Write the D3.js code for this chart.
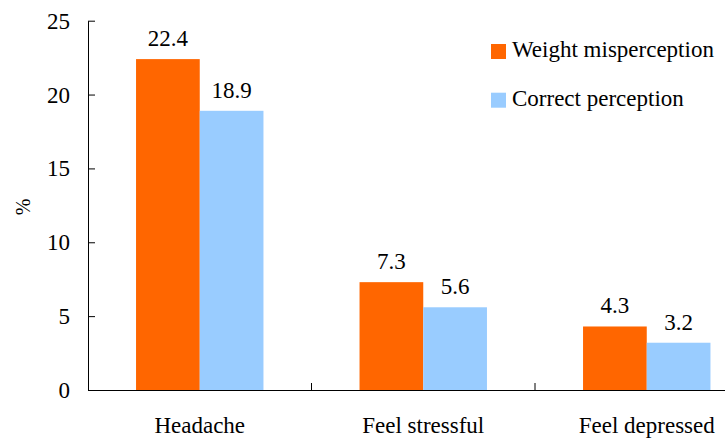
<!DOCTYPE html>
<html>
<head>
    <meta charset="utf-8">
    <script src="https://cdn.jsdelivr.net/npm/d3@7"></script>
</head>
<body style="margin:0">
    <script>

        //Data
        var categories = ["Headache", "Feel stressful", "Feel depressed"];
        var seriesNames = ["Weight misperception", "Correct perception"];
        var misperception = [22.4, 7.3, 4.3];
        var correct = [18.9, 5.6, 3.2];
        var yTicks = [0, 5, 10, 15, 20, 25];
        var colors = ["#ff6600", "#99ccff"];

        var w = 725;
        var h = 439;
        var fontName = "'Liberation Serif'";

        var plotLeft = 88, plotBottom = 390, plotTop = 20.7;
        var bandW = 223.5;

        var svg = d3.select("body")
            .append("svg")
            .attr("width", w)
            .attr("height", h);

        //Scales
        var x0 = d3.scaleBand()
            .domain(categories)
            .range([plotLeft, plotLeft + bandW * categories.length])
            .padding(0);

        var x1 = d3.scaleBand()
            .domain(seriesNames)
            .range([0, x0.bandwidth()])
            .paddingInner(0)
            .paddingOuter(0.754);

        var y = d3.scaleLinear()
            .domain([0, 25])
            .range([plotBottom, plotTop]);

        var rows = categories.map(function (c, i) {
            return { cat: c, values: [misperception[i], correct[i]] };
        });

        //Bars
        var groups = svg.selectAll("g.grp")
            .data(rows)
            .enter()
            .append("g")
            .attr("class", "grp")
            .attr("transform", function (d) { return "translate(" + x0(d.cat) + ",0)"; });

        groups.selectAll("rect")
            .data(function (d) { return d.values.map(function (v, j) { return { s: seriesNames[j], v: v, j: j }; }); })
            .enter()
            .append("rect")
            .attr("x", function (d) { return x1(d.s); })
            .attr("y", function (d) { return y(d.v); })
            .attr("width", x1.bandwidth())
            .attr("height", function (d) { return y(0) - y(d.v); })
            .style("fill", function (d) { return colors[d.j]; });

        //Y axis (lines only, labels drawn below)
        var yAxis = d3.axisLeft(y)
            .tickValues(yTicks)
            .tickSizeInner(-7)
            .tickSizeOuter(0)
            .tickFormat("");

        var gy = svg.append("g")
            .attr("transform", "translate(" + plotLeft + ",0)")
            .call(yAxis);
        gy.attr("font-family", null).attr("font-size", null);
        gy.select(".domain").attr("stroke", "#000");
        gy.selectAll(".tick line").attr("stroke", "#000");
        gy.selectAll(".tick text").remove();

        //X axis
        var gx = svg.append("g")
            .attr("transform", "translate(0," + plotBottom + ")")
            .call(d3.axisBottom(x0).tickSize(0).tickFormat(""));
        gx.attr("font-family", null).attr("font-size", null);
        gx.select(".domain").attr("stroke", "#000");
        gx.selectAll(".tick text").remove();

        //Category separators
        svg.selectAll("line.sep")
            .data(categories.slice(1))
            .enter()
            .append("line")
            .attr("class", "sep")
            .attr("x1", function (d) { return x0(d); })
            .attr("x2", function (d) { return x0(d); })
            .attr("y1", plotBottom)
            .attr("y2", plotBottom - 7)
            .attr("stroke", "#000");

        //Y tick labels
        svg.selectAll("text.ytick")
            .data(yTicks)
            .enter()
            .append("text")
            .attr("class", "ytick")
            .attr("x", plotLeft - 18)
            .attr("y", function (d) { return y(d) + 8; })
            .attr("text-anchor", "end")
            .attr("font-family", "Liberation Serif")
            .style("font-family", fontName)
            .style("font-size", "23px")
            .text(function (d) { return d; });

        //Value labels
        var valData = [];
        categories.forEach(function (c, i) {
            valData.push({ cat: c, s: seriesNames[0], v: misperception[i] });
            valData.push({ cat: c, s: seriesNames[1], v: correct[i] });
        });
        svg.selectAll("text.val")
            .data(valData)
            .enter()
            .append("text")
            .attr("class", "val")
            .attr("x", function (d) { return x0(d.cat) + x1(d.s) + x1.bandwidth() / 2; })
            .attr("y", function (d) { return y(d.v) - 13; })
            .attr("text-anchor", "middle")
            .attr("font-family", "Liberation Serif")
            .style("font-family", fontName)
            .style("font-size", "23px")
            .text(function (d) { return d.v.toFixed(1); });

        //Category labels
        svg.selectAll("text.cat")
            .data(categories)
            .enter()
            .append("text")
            .attr("class", "cat")
            .attr("x", function (d) { return x0(d) + x0.bandwidth() / 2; })
            .attr("y", 433)
            .attr("text-anchor", "middle")
            .attr("font-family", "Liberation Serif")
            .style("font-family", fontName)
            .style("font-size", "23px")
            .text(function (d) { return d; });

        //Y label
        svg.append("text")
            .attr("transform", "translate(30,207) rotate(-90)")
            .attr("text-anchor", "middle")
            .attr("font-family", "Liberation Serif")
            .style("font-family", fontName)
            .style("font-size", "20px")
            .text("%");

        //Legend
        svg.selectAll("rect.leg")
            .data(seriesNames)
            .enter()
            .append("rect")
            .attr("class", "leg")
            .attr("x", 491)
            .attr("y", function (d, i) { return 44 + i * 48.7; })
            .attr("width", 15)
            .attr("height", 15)
            .style("fill", function (d, i) { return colors[i]; });

        svg.selectAll("text.leg")
            .data(seriesNames)
            .enter()
            .append("text")
            .attr("class", "leg")
            .attr("x", 512)
            .attr("y", function (d, i) { return 57 + i * 48.7; })
            .attr("font-family", "Liberation Serif")
            .style("font-family", fontName)
            .style("font-size", "23px")
            .text(function (d) { return d; });

    </script>
</body>
</html>
